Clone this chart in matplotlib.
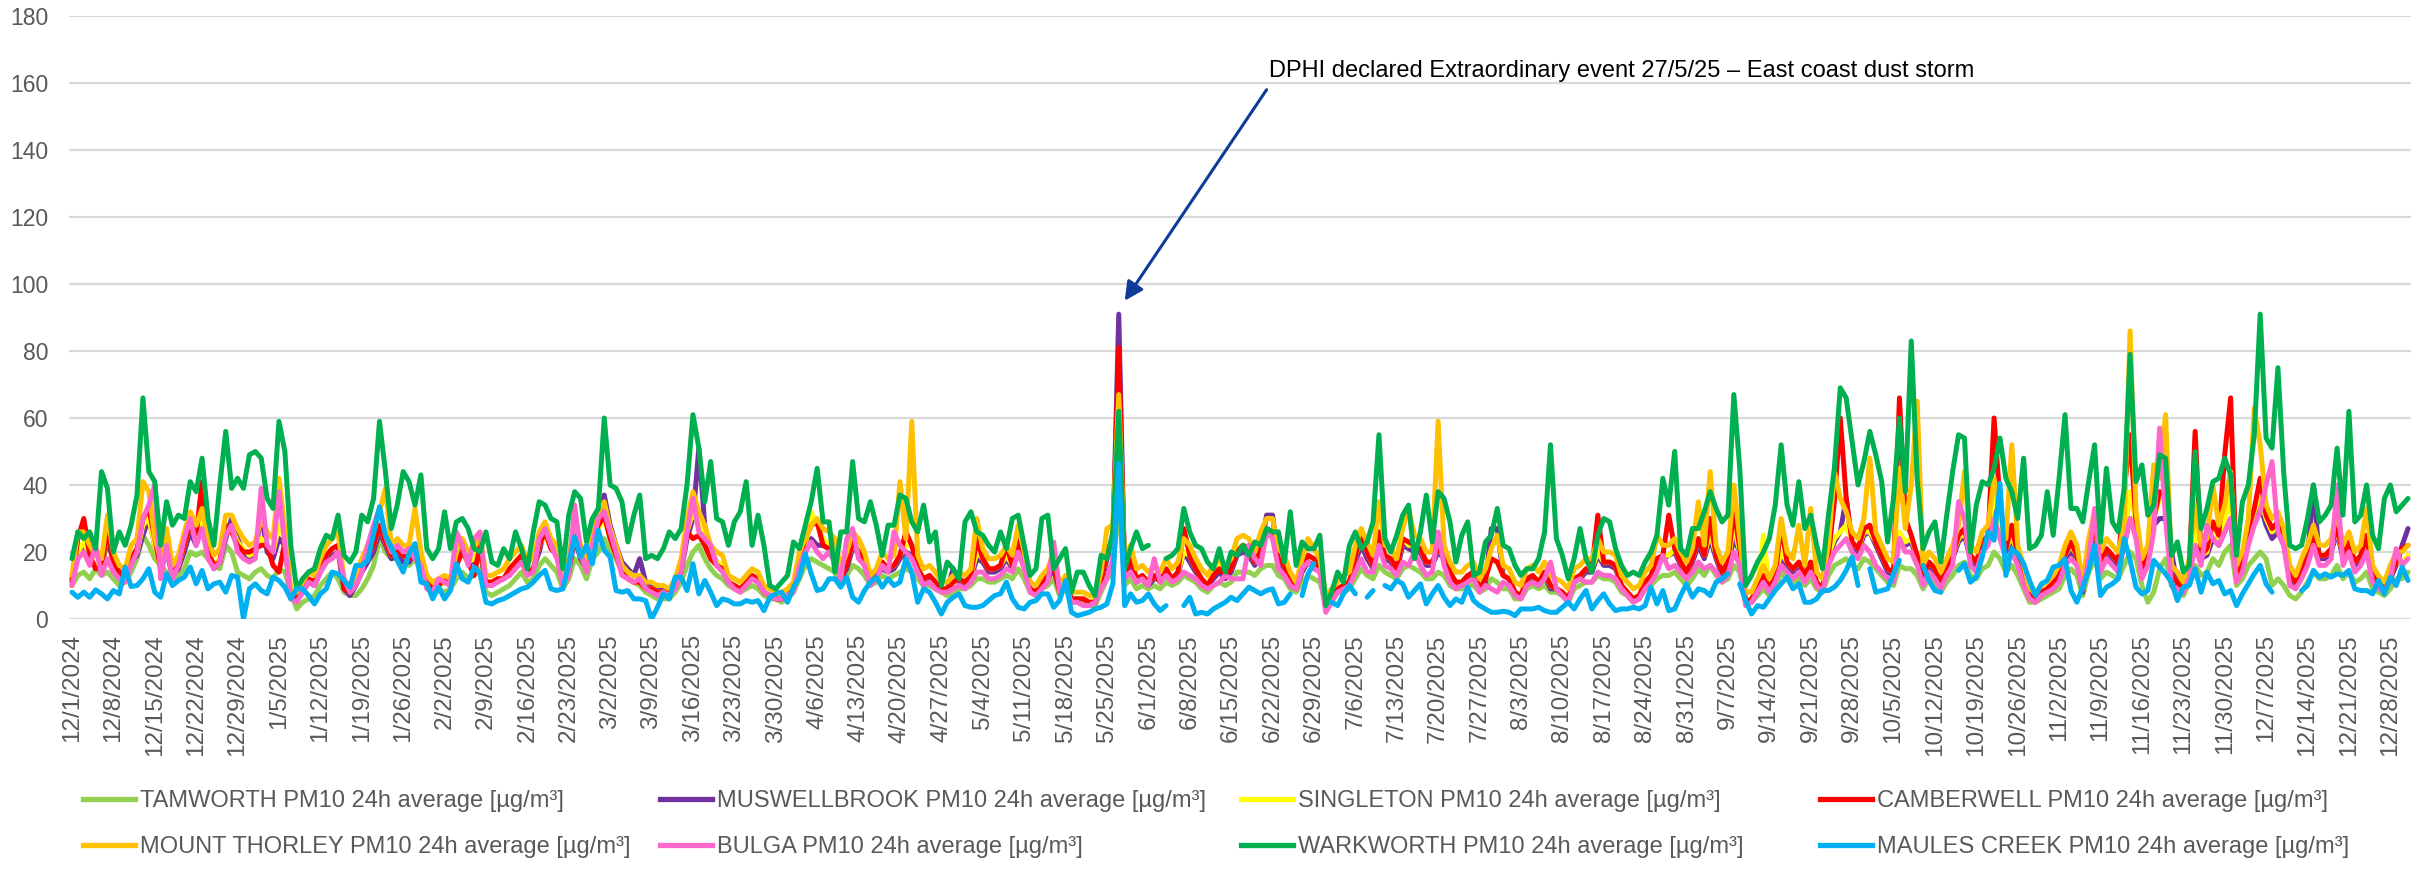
import matplotlib
matplotlib.use("Agg")
import matplotlib.pyplot as plt
import numpy as np
import pandas as pd
from matplotlib.lines import Line2D

nan = float("nan")

# daily PM10 24h averages, 1 Dec 2024 .. 31 Dec 2025
dates = pd.date_range("2024-12-01", "2025-12-31", freq="D")

tamworth = [
    10, 13, 14, 12, 15, 13, 14, 12, 10, 11, 14, 18, 25, 22, 18, 16, 14, 12, 13, 15,
    20, 19, 20, 18, 16, 15, 22, 20, 14, 13, 12, 14, 15, 13, 12, 15, 14, 8, 3, 5,
    6, 7, 10, 12, 14, 12, 8, 7, 7, 9, 12, 16, 24, 20, 18, 18, 17, 16, 18, 14,
    10, 8, 9, 8, 9, 12, 14, 12, 13, 15, 8, 7, 8, 9, 10, 12, 14, 11, 12, 16,
    18, 16, 14, 9, 12, 18, 16, 12, 18, 20, 24, 20, 18, 14, 12, 11, 10, 8, 7, 6,
    6, 6, 8, 11, 16, 20, 22, 18, 15, 13, 12, 10, 9, 8, 9, 10, 9, 7, 6, 6,
    5, 6, 8, 12, 16, 18, 17, 16, 15, 14, 10, 13, 16, 15, 13, 10, 11, 13, 12, 13,
    14, 15, 14, 12, 10, 10, 9, 8, 7, 8, 9, 9, 10, 12, 12, 11, 11, 12, 13, 12,
    15, 12, 8, 7, 9, 10, 12, 7, 9, 5, 5, 5, 4, 4, 8, 12, 14, 35, 10, 12,
    9, 10, 9, 10, 9, 11, 10, 11, 13, 12, 11, 9, 8, 10, 11, 10, 11, 14, 14, 14,
    13, 15, 16, 16, 13, 12, 9, 8, 11, 13, 12, 11, 5, 6, 8, 8, 9, 12, 15, 13,
    12, 16, 14, 13, 12, 15, 16, 15, 14, 12, 12, 14, 13, 10, 9, 9, 10, 10, 8, 9,
    12, 11, 9, 9, 6, 6, 9, 10, 9, 10, 8, 8, 7, 5, 9, 10, 11, 11, 13, 12,
    12, 11, 8, 7, 5, 6, 9, 10, 12, 13, 13, 14, 12, 10, 12, 15, 13, 16, 13, 11,
    12, 16, 14, 5, 5, 7, 9, 7, 9, 14, 12, 11, 12, 10, 12, 9, 8, 13, 16, 17,
    18, 16, 15, 18, 17, 15, 13, 11, 10, 16, 15, 15, 13, 9, 12, 11, 8, 11, 13, 16,
    17, 13, 12, 15, 16, 20, 18, 14, 16, 13, 9, 5, 5, 6, 7, 8, 9, 13, 15, 13,
    7, 14, 18, 12, 14, 13, 12, 16, 20, 18, 10, 5, 8, 15, 18, 10, 8, 7, 11, 16,
    13, 14, 18, 16, 20, 22, 10, 12, 16, 18, 20, 18, 10, 12, 10, 7, 6, 8, 11, 14,
    12, 12, 13, 16, 12, 14, 11, 12, 14, 9, 8, 7, 9, 12, 12, 14,
]

muswellbrook = [
    12, 20, 22, 18, 16, 15, 24, 17, 14, 13, 17, 19, 25, 30, 22, 15, 20, 13, 15, 20,
    26, 22, 28, 20, 15, 17, 24, 30, 24, 20, 18, 19, 32, 20, 18, 24, 22, 7, 6, 8,
    11, 10, 14, 17, 19, 20, 9, 7, 10, 14, 17, 20, 26, 22, 18, 19, 17, 17, 20, 15,
    10, 9, 10, 11, 10, 16, 23, 17, 17, 20, 11, 11, 12, 12, 14, 16, 18, 14, 15, 20,
    27, 22, 19, 11, 14, 24, 18, 15, 22, 28, 37, 28, 22, 17, 15, 13, 18, 11, 10, 9,
    9, 8, 10, 14, 24, 30, 51, 28, 20, 17, 15, 11, 10, 9, 11, 12, 11, 8, 7, 6,
    6, 7, 9, 15, 20, 24, 22, 22, 21, 19, 12, 15, 21, 20, 16, 11, 13, 15, 14, 15,
    18, 20, 19, 15, 11, 12, 10, 9, 9, 15, 11, 10, 12, 18, 17, 14, 14, 15, 18, 15,
    22, 16, 9, 8, 10, 12, 15, 8, 10, 6, 6, 6, 5, 5, 10, 18, 22, 91, 13, 17,
    11, 12, 10, 12, 12, 14, 12, 13, 20, 17, 14, 12, 10, 12, 14, 12, 14, 19, 20, 19,
    16, 21, 31, 31, 17, 15, 10, 9, 14, 17, 16, 14, 5, 7, 9, 10, 11, 17, 22, 18,
    15, 24, 18, 17, 14, 22, 21, 20, 20, 16, 16, 20, 18, 13, 10, 10, 12, 14, 9, 11,
    27, 27, 13, 12, 8, 7, 11, 12, 10, 13, 9, 9, 8, 6, 11, 12, 14, 14, 19, 16,
    16, 15, 10, 8, 6, 7, 10, 12, 17, 18, 19, 20, 16, 13, 17, 22, 18, 24, 18, 13,
    16, 24, 20, 5, 5, 8, 12, 9, 12, 18, 16, 14, 16, 12, 16, 10, 9, 18, 23, 26,
    36, 22, 20, 25, 26, 22, 18, 14, 13, 24, 22, 23, 18, 12, 16, 14, 10, 14, 18, 23,
    25, 18, 16, 22, 23, 34, 28, 20, 24, 18, 12, 7, 6, 8, 9, 10, 12, 18, 20, 18,
    8, 20, 26, 16, 20, 18, 16, 22, 30, 26, 14, 18, 28, 30, 30, 20, 10, 8, 14, 22,
    18, 19, 24, 22, 26, 30, 12, 16, 24, 30, 34, 28, 24, 26, 22, 12, 10, 14, 18, 40,
    18, 18, 20, 26, 18, 21, 16, 18, 22, 12, 10, 8, 12, 16, 22, 27,
]

singleton = [
    10, 20, 23, 19, 16, 15, 26, 19, 13, 12, 18, 20, 28, 30, 22, 15, 22, 14, 16, 22,
    28, 24, 30, 21, 16, 18, 27, 27, 23, 21, 19, 20, 24, 22, 20, 28, 24, 7, 7, 9,
    12, 11, 16, 19, 21, 22, 10, 8, 11, 15, 19, 22, 28, 23, 19, 21, 19, 19, 22, 17,
    11, 10, 10, 11, 10, 17, 20, 17, 18, 22, 11, 11, 12, 12, 15, 17, 19, 14, 15, 22,
    25, 21, 19, 11, 15, 26, 19, 15, 24, 27, 30, 24, 19, 14, 12, 11, 11, 9, 9, 8,
    8, 8, 10, 15, 26, 32, 28, 25, 19, 17, 16, 11, 10, 9, 11, 13, 12, 8, 7, 7,
    7, 7, 9, 17, 22, 32, 28, 24, 22, 20, 13, 17, 22, 21, 17, 11, 13, 17, 15, 16,
    19, 22, 22, 16, 12, 13, 11, 9, 9, 11, 12, 11, 13, 20, 18, 15, 15, 16, 19, 16,
    24, 17, 9, 8, 11, 13, 17, 8, 11, 6, 6, 6, 5, 6, 11, 20, 24, 58, 14, 22,
    12, 13, 11, 13, 11, 15, 12, 14, 20, 19, 15, 12, 10, 15, 17, 14, 15, 21, 22, 21,
    17, 23, 26, 26, 18, 16, 11, 9, 15, 19, 18, 15, 5, 7, 9, 10, 11, 19, 24, 20,
    16, 26, 19, 18, 15, 24, 22, 22, 21, 17, 17, 21, 19, 14, 11, 11, 13, 14, 12, 12,
    18, 17, 13, 12, 8, 7, 12, 13, 11, 14, 10, 9, 8, 6, 12, 13, 15, 15, 20, 17,
    17, 16, 10, 8, 6, 7, 11, 13, 18, 19, 19, 21, 17, 14, 18, 24, 19, 26, 19, 14,
    17, 28, 20, 6, 6, 9, 25, 9, 13, 20, 17, 15, 17, 13, 17, 11, 9, 19, 24, 26,
    28, 23, 21, 26, 26, 23, 19, 15, 14, 26, 23, 24, 19, 13, 17, 15, 11, 15, 19, 24,
    26, 19, 17, 23, 24, 38, 28, 21, 25, 19, 13, 7, 6, 8, 9, 11, 13, 19, 22, 19,
    9, 21, 28, 17, 21, 19, 17, 24, 38, 28, 15, 19, 30, 36, 36, 13, 11, 9, 15, 28,
    19, 20, 28, 24, 30, 36, 13, 17, 26, 32, 36, 30, 26, 28, 23, 13, 11, 15, 19, 24,
    19, 19, 21, 27, 19, 22, 17, 19, 24, 13, 11, 9, 13, 17, 17, 19,
]

camberwell = [
    11, 24, 30, 19, 15, 15, 27, 17, 14, 12, 18, 21, 30, 33, 24, 15, 22, 14, 16, 22,
    28, 25, 41, 20, 16, 17, 28, 26, 22, 20, 20, 21, 22, 22, 16, 14, 23, 7, 7, 9,
    12, 11, 16, 19, 21, 22, 9, 8, 11, 15, 19, 22, 28, 23, 19, 21, 19, 18, 22, 16,
    11, 9, 10, 12, 10, 16, 20, 17, 13, 22, 11, 11, 12, 12, 15, 17, 19, 14, 15, 22,
    26, 21, 19, 11, 15, 26, 19, 15, 24, 28, 31, 24, 19, 14, 12, 11, 11, 9, 9, 8,
    8, 8, 10, 15, 26, 24, 25, 22, 18, 16, 15, 11, 10, 9, 11, 13, 12, 8, 7, 6,
    6, 7, 9, 17, 24, 28, 29, 22, 21, 18, 12, 16, 23, 20, 17, 11, 13, 17, 15, 16,
    19, 26, 22, 15, 12, 13, 11, 9, 9, 11, 12, 11, 13, 24, 18, 15, 15, 16, 22, 16,
    24, 17, 9, 8, 11, 13, 16, 8, 11, 6, 6, 6, 5, 5, 11, 20, 24, 81, 13, 18,
    12, 13, 11, 13, 11, 15, 12, 14, 27, 19, 15, 12, 10, 13, 15, 13, 15, 20, 22, 21,
    17, 22, 27, 26, 18, 16, 11, 9, 15, 19, 18, 15, 5, 7, 9, 10, 11, 19, 25, 20,
    16, 26, 19, 18, 15, 24, 23, 22, 21, 17, 17, 21, 19, 14, 11, 11, 13, 14, 9, 12,
    18, 17, 13, 12, 8, 7, 12, 13, 11, 14, 10, 9, 8, 6, 12, 13, 15, 15, 31, 17,
    17, 16, 10, 8, 6, 7, 11, 13, 18, 19, 31, 21, 17, 14, 18, 24, 19, 30, 19, 14,
    17, 33, 21, 5, 6, 9, 13, 9, 13, 28, 17, 15, 17, 13, 17, 11, 9, 19, 35, 60,
    36, 23, 21, 27, 28, 23, 19, 15, 14, 66, 30, 25, 19, 13, 17, 15, 11, 15, 19, 25,
    27, 19, 17, 23, 25, 60, 35, 21, 28, 19, 13, 7, 6, 8, 9, 11, 13, 19, 23, 19,
    9, 21, 28, 17, 21, 19, 17, 38, 55, 29, 15, 19, 30, 38, 37, 13, 11, 9, 15, 56,
    19, 21, 29, 25, 49, 66, 13, 17, 27, 33, 42, 31, 27, 29, 24, 13, 11, 15, 19, 25,
    19, 19, 21, 28, 19, 23, 17, 19, 25, 13, 11, 9, 13, 17, 21, 22,
]

mount_thorley = [
    13, 26, 26, 22, 19, 18, 31, 20, 16, 15, 22, 24, 41, 38, 24, 18, 27, 16, 19, 26,
    32, 28, 33, 24, 19, 21, 31, 31, 27, 24, 22, 23, 30, 26, 24, 42, 27, 9, 8, 11,
    14, 13, 18, 22, 24, 26, 12, 9, 13, 18, 22, 26, 32, 39, 22, 24, 22, 22, 33, 20,
    13, 11, 12, 13, 12, 20, 24, 20, 21, 25, 13, 13, 14, 15, 18, 20, 22, 17, 18, 26,
    29, 24, 22, 13, 18, 30, 22, 17, 28, 32, 35, 27, 22, 16, 14, 13, 13, 11, 11, 10,
    10, 9, 12, 18, 30, 38, 32, 28, 22, 20, 19, 13, 12, 11, 13, 15, 14, 10, 9, 8,
    8, 9, 11, 20, 24, 28, 30, 27, 26, 24, 15, 20, 26, 24, 20, 13, 15, 20, 18, 19,
    41, 24, 59, 19, 15, 16, 14, 11, 11, 13, 14, 13, 15, 30, 21, 18, 18, 19, 22, 19,
    28, 20, 11, 10, 13, 15, 20, 10, 13, 8, 8, 8, 7, 7, 14, 27, 28, 67, 17, 22,
    15, 16, 14, 16, 14, 18, 15, 17, 24, 22, 18, 15, 13, 16, 18, 16, 18, 24, 25, 24,
    20, 26, 30, 30, 21, 19, 14, 11, 18, 24, 21, 18, 7, 9, 11, 13, 14, 22, 27, 23,
    19, 35, 22, 21, 18, 27, 33, 25, 24, 20, 20, 59, 22, 17, 14, 14, 16, 17, 12, 15,
    21, 25, 16, 15, 11, 10, 15, 16, 14, 17, 13, 12, 11, 9, 15, 16, 18, 18, 24, 20,
    20, 19, 13, 11, 9, 10, 14, 16, 25, 22, 22, 24, 20, 17, 21, 35, 22, 44, 22, 17,
    20, 40, 24, 8, 8, 12, 16, 12, 16, 30, 20, 18, 28, 16, 33, 14, 12, 22, 44, 36,
    32, 26, 24, 30, 48, 26, 22, 18, 17, 45, 27, 40, 65, 16, 20, 18, 14, 18, 22, 28,
    44, 22, 20, 26, 28, 42, 32, 24, 52, 22, 16, 9, 8, 10, 11, 13, 16, 22, 26, 22,
    11, 24, 32, 20, 24, 22, 20, 28, 86, 32, 18, 22, 46, 42, 61, 16, 14, 11, 18, 34,
    22, 24, 40, 28, 34, 44, 16, 20, 30, 63, 52, 34, 30, 32, 27, 16, 13, 18, 22, 28,
    22, 22, 24, 32, 22, 26, 20, 22, 33, 16, 13, 11, 16, 20, 20, 22,
]

bulga = [
    10, 18, 20, 16, 22, 13, 18, 14, 12, 11, 16, 20, 30, 34, 40, 12, 22, 12, 16, 24,
    30, 22, 27, 18, 15, 17, 25, 28, 20, 18, 17, 18, 39, 22, 20, 38, 22, 6, 5, 8,
    11, 10, 14, 17, 18, 20, 12, 8, 10, 14, 22, 28, 33, 25, 20, 22, 20, 21, 18, 16,
    9, 8, 12, 11, 10, 26, 22, 16, 24, 26, 10, 10, 11, 12, 13, 15, 17, 13, 14, 24,
    27, 22, 18, 10, 13, 34, 20, 14, 22, 30, 32, 26, 20, 13, 12, 11, 12, 9, 8, 7,
    8, 7, 9, 14, 26, 36, 26, 24, 22, 16, 14, 11, 9, 8, 10, 12, 11, 8, 7, 6,
    6, 7, 8, 16, 20, 23, 20, 18, 20, 17, 12, 24, 27, 18, 16, 10, 12, 16, 14, 26,
    22, 20, 18, 14, 10, 11, 9, 8, 8, 9, 10, 9, 11, 14, 14, 12, 12, 13, 15, 14,
    20, 15, 8, 7, 9, 11, 23, 8, 10, 5, 5, 4, 4, 5, 9, 12, 18, 45, 12, 14,
    11, 12, 10, 18, 11, 13, 11, 12, 14, 13, 12, 10, 9, 10, 11, 13, 12, 12, 12, 22,
    18, 16, 26, 24, 15, 13, 10, 9, 15, 17, 15, 14, 2, 5, 8, 9, 10, 14, 18, 14,
    14, 22, 16, 15, 13, 17, 16, 20, 16, 13, 14, 26, 16, 11, 9, 10, 11, 12, 8, 10,
    9, 8, 11, 10, 7, 6, 10, 11, 10, 12, 17, 9, 7, 5, 11, 12, 11, 11, 14, 13,
    13, 12, 9, 7, 5, 6, 9, 11, 14, 19, 15, 16, 14, 12, 14, 17, 15, 16, 14, 11,
    13, 20, 16, 4, 5, 8, 11, 8, 11, 16, 14, 12, 14, 11, 14, 10, 8, 16, 20, 22,
    24, 20, 18, 22, 20, 16, 14, 12, 11, 24, 20, 20, 16, 10, 14, 12, 9, 13, 16, 35,
    30, 16, 14, 20, 22, 30, 24, 18, 20, 16, 10, 6, 5, 7, 8, 9, 11, 16, 18, 16,
    9, 18, 33, 14, 18, 16, 14, 22, 30, 24, 12, 16, 26, 57, 30, 10, 9, 8, 12, 22,
    16, 28, 24, 22, 26, 30, 11, 14, 22, 28, 32, 40, 47, 26, 22, 10, 9, 12, 16, 22,
    16, 16, 18, 40, 16, 20, 14, 16, 20, 11, 9, 8, 12, 21, 16, 18,
]

warkworth = [
    18, 26, 24, 26, 21, 44, 39, 20, 26, 22, 28, 37, 66, 44, 41, 22, 35, 28, 31, 30,
    41, 38, 48, 30, 22, 40, 56, 39, 42, 39, 49, 50, 48, 36, 33, 59, 50, 22, 9, 12,
    14, 15, 21, 25, 24, 31, 19, 17, 20, 31, 29, 36, 59, 44, 27, 34, 44, 41, 34, 43,
    21, 18, 21, 32, 21, 29, 30, 27, 21, 20, 26, 17, 16, 21, 18, 26, 21, 15, 26, 35,
    34, 30, 29, 15, 31, 38, 36, 23, 30, 33, 60, 40, 39, 35, 23, 31, 37, 18, 19, 18,
    21, 26, 24, 27, 40, 61, 51, 35, 47, 30, 29, 22, 29, 32, 41, 22, 31, 22, 10, 9,
    11, 13, 23, 21, 28, 35, 45, 29, 29, 14, 26, 26, 47, 30, 29, 35, 28, 19, 28, 28,
    37, 36, 29, 26, 34, 23, 26, 10, 17, 15, 12, 29, 32, 26, 25, 22, 20, 26, 21, 30,
    31, 22, 13, 15, 30, 31, 15, 18, 21, 8, 14, 14, 10, 7, 19, 18, 26, 62, 15, 21,
    26, 21, 22, nan, nan, 18, 19, 21, 33, 26, 22, 21, 17, 15, 21, 14, 20, 19, 22, 19,
    23, 22, 27, 26, 26, 17, 32, 16, 23, 21, 21, 25, 4, 8, 14, 11, 22, 26, 21, 23,
    29, 55, 24, 20, 25, 31, 34, 18, 26, 37, 23, 38, 36, 29, 17, 25, 29, 13, 14, 23,
    25, 33, 22, 21, 16, 13, 15, 15, 18, 26, 52, 24, 19, 12, 18, 27, 18, 14, 25, 30,
    29, 21, 16, 13, 14, 13, 17, 20, 25, 42, 34, 50, 21, 19, 27, 27, 32, 38, 33, 29,
    31, 67, 45, 10, 13, 17, 20, 24, 34, 52, 34, 28, 41, 27, 31, 22, 15, 31, 45, 69,
    66, 53, 40, 47, 56, 49, 41, 23, 36, 60, 38, 83, 42, 21, 26, 29, 17, 31, 44, 55,
    54, 20, 34, 41, 40, 45, 54, 42, 38, 30, 48, 21, 22, 25, 38, 25, 42, 61, 33, 33,
    29, 41, 52, 23, 45, 29, 26, 39, 79, 41, 46, 31, 34, 49, 48, 19, 23, 14, 16, 50,
    27, 33, 41, 42, 48, 43, 19, 35, 40, 55, 91, 54, 51, 75, 43, 22, 21, 22, 30, 40,
    29, 31, 34, 51, 31, 62, 29, 31, 40, 25, 21, 36, 40, 32, 34, 36,
]

maules_creek = [
    8, 6.5, 8, 6.5, 8.7, 7.5, 6, 8.5, 7.5, 15.5, 9.7, 10, 12, 15, 8, 6.5, 13.5, 10, 11.5, 12.5,
    15.5, 10.5, 14.5, 9, 10.5, 11, 8, 13, 12.5, 0, 9, 10.5, 8.5, 7.5, 12.5, 11.5, 9.5, 6, 9, 9,
    7, 4.5, 7.5, 9, 14, 13.5, 11.5, 9.5, 16, 16, 17.5, 25.5, 33.5, 25, 21.5, 17.5, 14, 19.5, 22.5, 11,
    10.5, 6, 9.5, 6, 8.5, 16.5, 12, 11, 15.5, 13.5, 5, 4.5, 5.5, 6, 7, 8, 9, 9.5, 11, 13,
    14.5, 9, 8.5, 9, 16.5, 24.5, 18.5, 22, 16.5, 26.5, 20.5, 18.5, 8.5, 8, 8.5, 6, 6, 5.5, 0, 3.5,
    7.5, 6, 12.5, 12.5, 8.5, 16.5, 7.5, 11.5, 8, 4, 6, 5.5, 4.5, 4.5, 5.5, 5, 5.5, 2.5, 6.5, 7.5,
    8, 5, 9.5, 12.5, 19.5, 13.5, 8.5, 9, 12, 12, 9.5, 12.5, 6.5, 5, 8.5, 11, 12.5, 9.5, 12, 10,
    11, 18, 14, 5, 9, 8, 5, 1.5, 5, 6.5, 7.5, 4, 3.5, 3.5, 4, 5.5, 7, 7.5, 11, 6,
    3.5, 3, 5, 5.5, 7.5, 7.5, 3.5, 5.5, 11.5, 2, 1, 1.5, 2, 3, 3.5, 4.5, 10.5, 46.5, 4, 7.5,
    5, 5.5, 7.5, 4.5, 2.5, 4, nan, nan, 4, 6.5, 1.5, 2, 1.5, 3, 4, 5, 6.5, 5.5, 7.5, 9.5,
    8.5, 7.5, 8.5, 9, 4.5, 5, 7.5, nan, 7, 13.5, 16.5, nan, nan, 5, 4, 7.5, 10, 7.5, nan, 6.5,
    8.5, nan, 10, 9, 11.5, 10.5, 6.5, 8.5, 10.5, 4.5, 7.5, 10, 6.5, 4, 6, 5, 9.5, 5.5, 4, 3,
    2, 2, 2.3, 2, 1, 3, 3, 3, 3.5, 2.5, 2, 2, 3.5, 5, 3, 6, 8.5, 3, 5.5, 7.5,
    4.5, 2.5, 3, 3, 3.5, 3, 4, 9.5, 4.5, 8.5, 2.5, 3, 7, 10.5, 6.5, 9, 8.5, 7, 11, 12,
    13.5, nan, 10.5, 5.5, 1.5, 4, 3.5, 6, 8.5, 10.5, 12.5, 9, 10.5, 5, 5, 6, 8.5, 8.5, 9.5, 11.5,
    14.5, 18.5, 10, nan, 15, 8, 8.5, 9, 13.5, 17.5, nan, nan, nan, 16, 11.5, 8.5, 8, nan, nan, 14.5,
    16.5, 11, 12.5, 18.5, 26, 23.5, 40.5, 13, 21, 19.5, 16.5, 11.5, 7, 10.5, 11.5, 15.5, 16, 18, 8.5, 5,
    9.5, 14.5, 22, 7, 9.5, 10.5, 12, 24, 17.5, 9.5, 7.5, 8.5, 17.5, 15.5, 13.5, 11, 5.5, 9.5, 10, 15,
    8, 14, 10.5, 11.5, 7.5, 8.5, 4, 7.5, 10.5, 13.5, 16, 10.5, 8, nan, nan, nan, nan, 8.5, 10, 14.5,
    12.5, 13.5, 12.5, 13.5, 13, 14.5, 9, 8.5, 8.5, 7.5, 11.5, 7.5, 12.5, 10, 15.5, 11.5,
]

series_names = [
    "TAMWORTH PM10 24h average [µg/m³]",
    "MUSWELLBROOK PM10 24h average [µg/m³]",
    "SINGLETON PM10 24h average [µg/m³]",
    "CAMBERWELL PM10 24h average [µg/m³]",
    "MOUNT THORLEY PM10 24h average [µg/m³]",
    "BULGA PM10 24h average [µg/m³]",
    "WARKWORTH PM10 24h average [µg/m³]",
    "MAULES CREEK PM10 24h average [µg/m³]",
]
series_values = [tamworth, muswellbrook, singleton, camberwell,
                 mount_thorley, bulga, warkworth, maules_creek]
series_colors = ["#92D050", "#7030A0", "#FFFF00", "#FF0000",
                 "#FFC000", "#FF66CC", "#00B050", "#00B0F0"]

event_date = "2025-05-27"
event_text = "DPHI declared Extraordinary event 27/5/25 \u2013 East coast dust storm"

for name, vals in zip(series_names, series_values):
    assert len(vals) == len(dates), (name, len(vals))

plt.rcParams["font.family"] = ["Liberation Sans", "DejaVu Sans"]

W, H = 2420, 880
fig = plt.figure(figsize=(W / 100, H / 100), dpi=100)
ax = fig.add_axes([69 / W, 1 - 619 / H, (2411 - 69) / W, (619 - 16) / H])

x = np.arange(len(dates))
for i, (vals, col) in enumerate(zip(series_values, series_colors)):
    ax.plot(x, np.array(vals, dtype=float), color=col, lw=3.6,
            solid_joinstyle="round", solid_capstyle="round", zorder=3 + i)

ax.set_xlim(-0.5, len(dates) - 0.5)
ax.set_ylim(0, 180)
ax.set_yticks(np.arange(0, 181, 20))
ax.grid(axis="y", color="#D9D9D9", lw=1.6, zorder=0)
ax.set_axisbelow(True)
for s in ax.spines.values():
    s.set_visible(False)

tick_idx = np.arange(0, len(dates), 7)
ax.set_xticks(tick_idx)
ax.set_xticklabels([f"{d.month}/{d.day}/{d.year}" for d in dates[tick_idx]],
                   rotation=90, fontsize=17.5, color="#595959")
ax.tick_params(axis="x", length=0, pad=11)
ax.tick_params(axis="y", length=0, pad=15, labelsize=16.5, labelcolor="#595959")

# annotation arrow for the dust storm
ev = dates.get_loc(pd.Timestamp(event_date))
peak = max(v[ev] for v in series_values)
ax.annotate("", xy=(ev + 1, peak + 4), xytext=(ev + 25, 158),
            arrowprops=dict(arrowstyle="-|>", color="#0E3A9A", lw=2.2,
                            mutation_scale=28, shrinkA=0, shrinkB=0))
ax.text(ev + 25.4, 163.5, event_text, fontsize=17, color="black",
        va="center", ha="left")

# legend: 4 columns x 2 rows
col_x = [83, 660, 1241, 1820]
for j, cx in enumerate(col_x):
    hs = [Line2D([], [], color=series_colors[k], lw=3.8) for k in (j, j + 4)]
    fig.legend(hs, [series_names[j], series_names[j + 4]], loc="center left",
               bbox_to_anchor=(cx / W, 1 - 824 / H), frameon=False, fontsize=17,
               labelcolor="#595959", handlelength=2.2, handletextpad=0.2,
               labelspacing=1.0, borderpad=0, borderaxespad=0)

fig.savefig("out.png", dpi=100, facecolor="white")
